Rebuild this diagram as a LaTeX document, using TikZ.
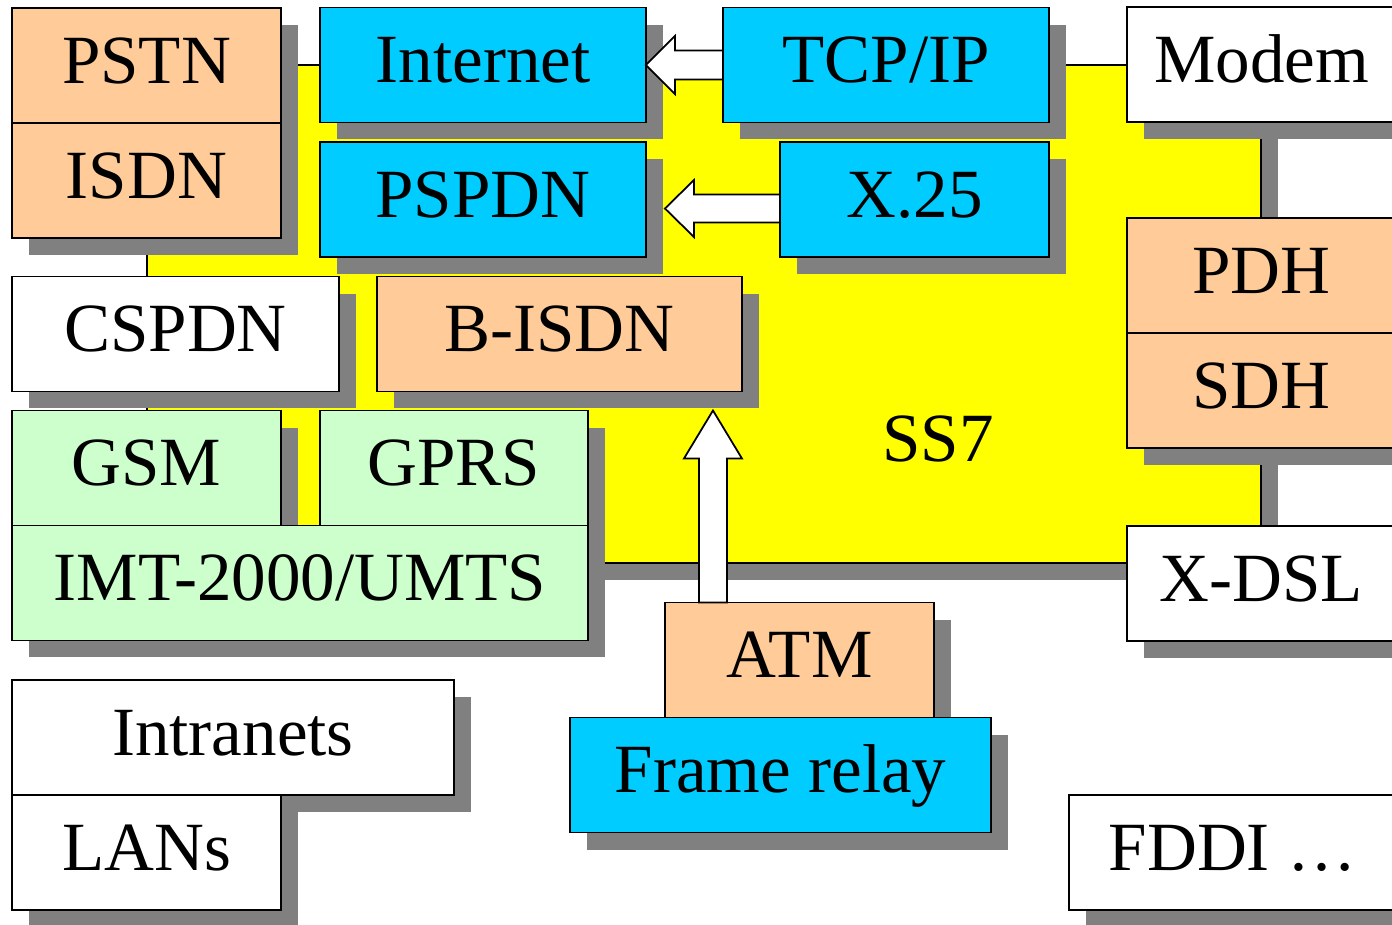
\documentclass[tikz,border=0pt]{standalone}
\usepackage{fontspec}
\setmainfont{Liberation Serif}
\usepackage{tikz}
\usetikzlibrary{shadows,positioning,calc}

\definecolor{peach}{HTML}{FFCC99}
\definecolor{netblue}{HTML}{00CCFF}
\definecolor{mobgreen}{HTML}{CCFFCC}
\definecolor{ssyellow}{RGB}{255,255,0}
\definecolor{shadowgray}{RGB}{128,128,128}

\begin{document}
\begin{tikzpicture}[x=0.02cm, y=-0.02cm,
  every node/.style = {inner sep=0pt, outer sep=0pt,
    font=\fontsize{39.3}{47}\selectfont,
    text height=26pt, text depth=5.7pt}]
    \tikzstyle{tileshadow}=[drop shadow={shadow xshift=0.34cm,
      shadow yshift=-0.34cm, opacity=1, fill=shadowgray}]
    \tikzstyle{tile}=[draw, line width=1.1pt, minimum height=2.3cm, tileshadow]
    \tikzstyle{peachbox}=[tile, fill=peach]
    \tikzstyle{netbox}=[tile, fill=netblue]
    \tikzstyle{mobbox}=[tile, fill=mobgreen]
    \tikzstyle{plainbox}=[tile, fill=white]
    \tikzstyle{blockarrow}=[draw, fill=white, line width=1pt, line join=miter]

  \useasboundingbox (0,0) rectangle (1392,924);
  \filldraw[fill=ssyellow, line width=0.8pt, tileshadow] (147,65) rectangle (1261,563);
  \node (ss7) at (938,444) {SS7};

  \node[peachbox, minimum width=5.38cm] (pstn) at (146.5,65.5) {PSTN};
  \node[peachbox, minimum width=5.38cm, below=0pt of pstn] (isdn) {ISDN};
  \node[netbox, minimum width=6.52cm] (internet) at (483,65) {Internet};
  \node[netbox, minimum width=6.52cm] (tcpip) at (886,65) {TCP/IP};
  \node[plainbox, minimum width=5.38cm] (modem) at (1261.5,64.5) {Modem};
  \node[netbox, minimum width=6.52cm] (pspdn) at (483,199.5) {PSPDN};
  \node[netbox, minimum width=5.38cm] (x25) at (914.5,199.5) {X.25};
  \node[peachbox, minimum width=5.38cm] (pdh) at (1261.5,275.5) {PDH};
  \node[peachbox, minimum width=5.38cm, below=0pt of pdh] (sdh) {SDH};
  \node[plainbox, minimum width=6.54cm] (cspdn) at (175.5,334) {CSPDN};
  \node[peachbox, minimum width=7.3cm] (bisdn) at (559.5,334) {B-ISDN};
  \node[mobbox, minimum width=5.38cm] (gsm) at (146.5,468) {GSM};
  \node[mobbox, minimum width=5.36cm] (gprs) at (454,468) {GPRS};
  \node[mobbox, minimum width=11.52cm, anchor=north west] (imt) at (gsm.south west) {IMT-2000/UMTS};
  \node[plainbox, minimum width=5.38cm] (xdsl) at (1261.5,583.5) {X-DSL};
  \node[peachbox, minimum width=5.38cm] (atm) at (799.5,660) {ATM};
  \node[netbox, minimum width=8.42cm] (frame) at (780.5,775) {Frame relay};
  \node[plainbox, minimum width=8.84cm] (intranets) at (233,737.5) {Intranets};
  \node[plainbox, minimum width=5.38cm, anchor=north west] (lans) at (intranets.south west) {LANs};
  \node[plainbox, minimum width=6.54cm] (fddi) at (1232.5,852.5) {FDDI …};

  \draw[blockarrow] (internet.east) -- ++(29,-29) -- ++(0,14.5)
    -- ($(tcpip.west)+(0,-14.5)$) -- ($(tcpip.west)+(0,14.5)$)
    -- ($(internet.east)+(29,14.5)$) -- ++(0,14.5) -- cycle;
  \coordinate (tip2) at ($(pspdn.east)+(19,9)$);
  \draw[blockarrow] (tip2) -- ++(29,-28.5) -- ++(0,14.5)
    -- ($(x25.west |- tip2)+(0,-14)$) -- ++(0,28)
    -- ($(tip2)+(29,14)$) -- ++(0,14.5) -- cycle;
  \coordinate (tip3) at ($(bisdn.south east)+(-29,19)$);
  \draw[blockarrow] (tip3) -- ++(29,48) -- ++(-15,0)
    -- ($(tip3 |- atm.north)+(14,0)$) -- ++(-28,0)
    -- ($(tip3)+(-14,48)$) -- ++(-15,0) -- cycle;
\end{tikzpicture}
\end{document}
